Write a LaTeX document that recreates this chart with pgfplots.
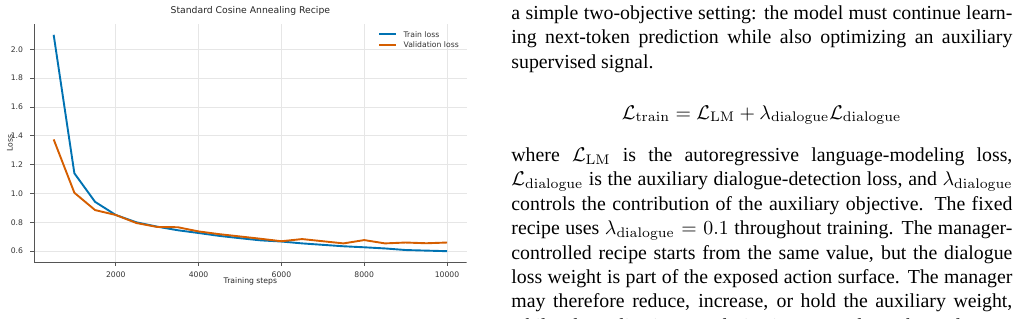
\documentclass[border=0pt]{standalone}
\usepackage[no-math]{fontspec}
\setmainfont{Liberation Serif}
\newfontfamily\dejavu{DejaVu Sans}
\usepackage{pgfplots}
\pgfplotsset{compat=1.18}
\usepackage{pgfplotstable}
\definecolor{trainc}{HTML}{0072B2}
\definecolor{valc}{HTML}{D55E00}
\definecolor{spinec}{HTML}{555555}
\definecolor{gridc}{HTML}{E6E6E6}
\definecolor{tickc}{HTML}{333333}

\pgfplotstableread{
step loss
500 2.100
1000 1.140
1500 0.942
2000 0.851
2500 0.800
3000 0.770
3500 0.745
4000 0.726
4500 0.706
5000 0.690
5500 0.675
6000 0.667
6500 0.654
7000 0.644
7500 0.634
8000 0.627
8500 0.619
9000 0.608
9500 0.604
10000 0.600
}\traintable

\pgfplotstableread{
step loss
500 1.375
1000 1.005
1500 0.885
2000 0.851
2500 0.795
3000 0.768
3500 0.766
4000 0.737
4500 0.718
5000 0.702
5500 0.686
6000 0.669
6500 0.684
7000 0.669
7500 0.654
8000 0.677
8500 0.654
9000 0.660
9500 0.655
10000 0.660
}\valtable

\begin{document}
\begin{tikzpicture}
\path[use as bounding box] (0,0) rectangle (1020bp,-319bp);
\begin{axis}[
  at={(34bp,-262bp)}, anchor=south west,
  scale only axis, width=432.7bp, height=238bp,
  xmin=25, xmax=10475, ymin=0.525, ymax=2.175,
  axis line style={draw=none},
  xtick pos=bottom, ytick pos=left,
  xtick={2000,4000,6000,8000,10000},
  ytick={0.6,0.8,1.0,1.2,1.4,1.6,1.8,2.0},
  scaled x ticks=false, scaled y ticks=false,
  grid=major,
  major grid style={draw=gridc, line width=0.8bp},
  tick align=outside, major tick length=3.5bp,
  tick style={draw=spinec, line width=0.8bp},
  /pgf/number format/assume math mode=true,
  xticklabel style={/pgf/number format/.cd, set thousands separator={}, fixed, precision=0, /tikz/.cd},
  yticklabel style={/pgf/number format/.cd, fixed, fixed zerofill, precision=1, /tikz/.cd},
  ticklabel style={font=\dejavu\fontsize{7.7}{9}\selectfont, text=tickc, inner sep=0pt},
  xticklabel style={anchor=north, yshift=-6bp},
  yticklabel style={anchor=east, xshift=-7.3bp},
  title={Standard Cosine Annealing Recipe},
  title style={font=\dejavu\fontsize{9.3}{11}\selectfont, text=black!85, at={(axis description cs:0.5,1)}, anchor=base, inner sep=0pt, yshift=4.5bp},
  xlabel={Training steps},
  xlabel style={font=\dejavu\fontsize{7.7}{9}\selectfont, text=black!85, at={(axis description cs:0.5,0)}, anchor=base, inner sep=0pt, yshift=-21.3bp},
  ylabel={Loss},
  ylabel style={font=\dejavu\fontsize{7.7}{9}\selectfont, text=black!85, at={(axis description cs:0,0.5)}, anchor=base, inner sep=0pt, yshift=21.3bp},
  legend style={draw=none, fill=none, inner sep=0pt, at={(axis description cs:0.7950,0.9697)}, anchor=north west, row sep=4.8bp, column sep=7bp, font=\dejavu\fontsize{7.7}{9}\selectfont, text=tickc, nodes={inner sep=0pt, text height=5.6bp, text depth=0pt}},
  legend cell align=left,
  legend image code/.code={\draw[#1] (0bp,0bp) -- (16.5bp,0bp);},
]
\draw[spinec, line width=0.9bp] (rel axis cs:0,1) -- (rel axis cs:0,0) -- (rel axis cs:1,0);
\addplot[trainc, line width=1.9bp, line join=round] table[x=step, y=loss] {\traintable};
\addlegendentry{Train loss}
\addplot[valc, line width=1.9bp, line join=round] table[x=step, y=loss] {\valtable};
\addlegendentry{Validation loss}
\end{axis}
\begin{scope}
\clip (0,0) rectangle (1020bp,-319bp);
\node[anchor=base west, inner sep=0pt, scale=1.99] at (511bp,-19.5bp) {\parbox[t]{251.76bp}{\fontsize{10}{12.3}\selectfont\tolerance=10000\hyphenpenalty=10000 a simple two-objective setting: the model must continue learn-\linebreak ing next-token prediction while also optimizing an auxiliary\linebreak supervised signal.}};
\node[anchor=base, inner sep=0pt, scale=1.99] at (761.5bp,-119bp) {\normalsize $\displaystyle \mathcal{L}_{\mathrm{train}} = \mathcal{L}_{\mathrm{LM}} + \lambda_{\mathrm{dialogue}}\mathcal{L}_{\mathrm{dialogue}}$};
\node[anchor=base west, inner sep=0pt, scale=1.99] at (511bp,-161.5bp) {\parbox[t]{251.76bp}{\fontsize{10}{12.3}\selectfont\tolerance=10000\hyphenpenalty=10000\parfillskip=0pt where $\mathcal{L}_{\mathrm{LM}}$ is the autoregressive language-modeling loss,\linebreak $\mathcal{L}_{\mathrm{dialogue}}$ is the auxiliary dialogue-detection loss, and $\lambda_{\mathrm{dialogue}}$\linebreak controls the contribution of the auxiliary objective. The fixed\linebreak recipe uses $\lambda_{\mathrm{dialogue}} = 0.1$ throughout training. The manager-\linebreak controlled recipe starts from the same value, but the dialogue\linebreak loss weight is part of the exposed action surface. The manager\linebreak may therefore reduce, increase, or hold the auxiliary weight,\linebreak while also adjusting regularization controls such as dropout}};
\end{scope}
\end{tikzpicture}
\end{document}
